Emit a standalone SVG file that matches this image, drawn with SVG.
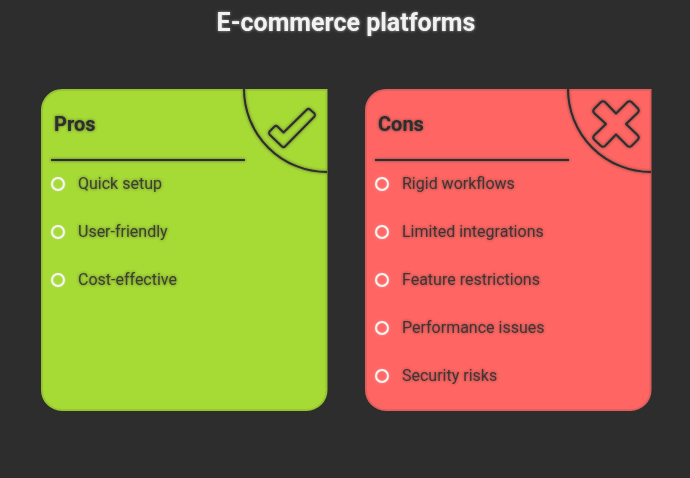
<svg xmlns="http://www.w3.org/2000/svg" width="690" height="478" viewBox="0 0 690 478">
<defs>
<filter id="glow" x="-20%" y="-20%" width="140%" height="140%"><feGaussianBlur in="SourceAlpha" stdDeviation="1.7" result="b"/><feFlood flood-color="#2d2d2d" flood-opacity="0.7"/><feComposite in2="b" operator="in"/><feMerge><feMergeNode/><feMergeNode in="SourceGraphic"/></feMerge></filter>
<filter id="lglow" x="-50%" y="-50%" width="200%" height="200%"><feGaussianBlur in="SourceAlpha" stdDeviation="1.2" result="b"/><feFlood flood-color="#f2f2f2" flood-opacity="0.4"/><feComposite in2="b" operator="in"/><feMerge><feMergeNode/><feMergeNode in="SourceGraphic"/></feMerge></filter>
<filter id="tglow" x="-10%" y="-40%" width="120%" height="180%"><feGaussianBlur in="SourceAlpha" stdDeviation="1.6" result="b"/><feFlood flood-color="#f2f2f2" flood-opacity="0.6"/><feComposite in2="b" operator="in"/><feMerge><feMergeNode/><feMergeNode in="SourceGraphic"/></feMerge></filter>
</defs>
<style>
text{font-family:Roboto,"Liberation Sans",sans-serif}
.title{font-size:25px;font-weight:700;fill:#f2f2f2;text-anchor:middle}
.head{font-size:20px;font-weight:700;fill:#2d2d2d}
.item{font-size:16px;fill:#2d2d2d;fill-opacity:.85}
.line{fill:none;stroke:#2d2d2d;stroke-width:2}
.dot{fill:none;stroke:#f6f6f6;stroke-width:2}
.pros{fill:#a6da35;stroke:#96c531;stroke-width:2}
.cons{fill:#ff6663;stroke:#e05f5c;stroke-width:2}
</style>
<rect width="690" height="478" fill="#2d2d2d"/>
<g id="title"><text class="title" x="346" y="31" filter="url(#tglow)">E-commerce platforms</text></g>
<g id="pros">
<path class="pros" d="M62 90H326.500V390a20 20 0 0 1-20 20H62a20 20 0 0 1-20-20V110a20 20 0 0 1 20-20Z"/>
<g filter="url(#glow)">
<text class="head" x="54" y="131">Pros</text>
<path class="line" d="M51 160H245"/>
<path class="line" d="M244 89A83 83 0 0 0 327 172"/>
<path class="line" stroke-linejoin="round" d="M269.500 131.500 274.500 126.500Q276 125.200 277.500 126.500L283.500 132.500 307 109.500Q308.500 108.200 310 109.500L314.500 113.500Q315.500 115 314.500 116.500L285 146.500Q283.500 148 282 146.500L269.500 134.500Q268.500 133 269.500 131.500Z"/>
<text class="item" x="78" y="189">Quick setup</text>
<text class="item" x="78" y="237">User-friendly</text>
<text class="item" x="78" y="285">Cost-effective</text>
</g>
<g filter="url(#lglow)">
<circle class="dot" cx="58" cy="184" r="6"/>
<circle class="dot" cx="58" cy="232" r="6"/>
<circle class="dot" cx="58" cy="280" r="6"/>
</g>
</g>
<g id="cons">
<path class="cons" d="M386 90H650.500V390a20 20 0 0 1-20 20H386a20 20 0 0 1-20-20V110a20 20 0 0 1 20-20Z"/>
<g filter="url(#glow)">
<text class="head" x="378" y="131">Cons</text>
<path class="line" d="M375 160H569"/>
<path class="line" d="M568 89A83 83 0 0 0 651 172"/>
<path class="line" stroke-linejoin="round" d="M594 109 601 102Q603 100.500 605 102L616 113.500 627.500 102Q629.500 100.500 631.500 102L638 108.500Q639.500 110.500 638 112.500L626 124 638 135.500Q639.500 137.500 638 139.500L631.500 146Q629.500 147.500 627.500 146L616 134.500 605 146Q603 147.500 601 146L594 139.500Q592.500 137.500 594 135.500L606 124 594 113Q592.500 111 594 109Z"/>
<text class="item" x="402" y="189">Rigid workflows</text>
<text class="item" x="402" y="237">Limited integrations</text>
<text class="item" x="402" y="285">Feature restrictions</text>
<text class="item" x="402" y="333">Performance issues</text>
<text class="item" x="402" y="381">Security risks</text>
</g>
<g filter="url(#lglow)">
<circle class="dot" cx="382" cy="184" r="6"/>
<circle class="dot" cx="382" cy="232" r="6"/>
<circle class="dot" cx="382" cy="280" r="6"/>
<circle class="dot" cx="382" cy="328" r="6"/>
<circle class="dot" cx="382" cy="376" r="6"/>
</g>
</g>
</svg>
